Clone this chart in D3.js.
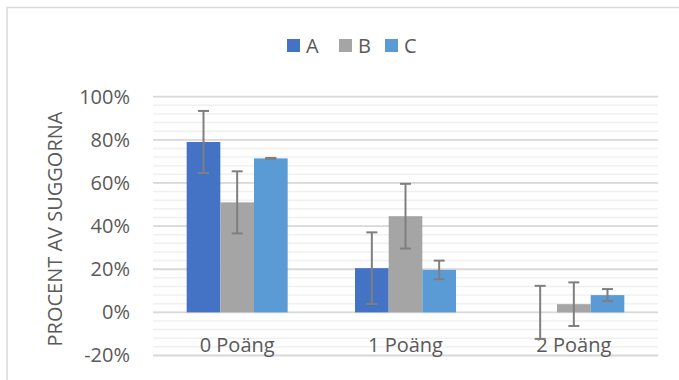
<!DOCTYPE html>
<html><head><meta charset="utf-8">
<script src="https://cdn.jsdelivr.net/npm/d3@7"></script>
<style>body{margin:0;background:#fff}svg{display:block}</style>
</head><body>
<svg id="c" width="679" height="380"></svg>
<script>
const categories = ["0 Poäng", "1 Poäng", "2 Poäng"];
const seriesNames = ["A", "B", "C"];
const valuesA = [0.79, 0.205, 0.0];
const valuesB = [0.51, 0.446, 0.038];
const valuesC = [0.714, 0.197, 0.08];
const errorsA = [0.144, 0.166, 0.123];
const errorsB = [0.144, 0.15, 0.101];
const errorsC = [0.002, 0.043, 0.028];
const yTicks = [-0.2, 0, 0.2, 0.4, 0.6, 0.8, 1.0];
const colors = ["#4472c4", "#a5a5a5", "#5b9bd5"];
const yTitle = "PROCENT AV SUGGORNA";

const values = [valuesA, valuesB, valuesC];
const errors = [errorsA, errorsB, errorsC];
const svg = d3.select("#c");
const font = "'Open Sans', sans-serif";

// outer border
svg.append("rect").attr("x", 7).attr("y", 7.5).attr("width", 700).attr("height", 400)
  .attr("fill", "none").attr("stroke", "#d9d9d9").attr("stroke-width", 1.5);

const x = d3.scaleBand().domain(categories).range([153, 658]).padding(0);
const xs = d3.scaleBand().domain(seriesNames).range([0, x.bandwidth()]).paddingOuter(1).paddingInner(0);
const y = d3.scaleLinear().domain([-0.2, 1.0]).range([355.5, 96.7]);

// minor gridlines
const minor = d3.range(-0.2, 1.0001, 0.04).map(v => Math.round(v * 100) / 100);
svg.append("g").selectAll("line").data(minor).join("line")
  .attr("x1", 153).attr("x2", 658).attr("y1", d => y(d)).attr("y2", d => y(d))
  .attr("stroke", "#f0f0f0").attr("stroke-width", 1.5);
// major gridlines
svg.append("g").selectAll("line").data(yTicks).join("line")
  .attr("x1", 153).attr("x2", 658).attr("y1", d => y(d)).attr("y2", d => y(d))
  .attr("stroke", "#d9d9d9").attr("stroke-width", 1.8);

// y axis labels
const yAxis = d3.axisLeft(y).tickValues(yTicks).tickFormat(d => Math.round(d * 100) + "%").tickSize(0).tickPadding(0);
const ga = svg.append("g").attr("transform", "translate(130,0)").call(yAxis);
ga.select(".domain").remove();
ga.selectAll("text").attr("font-family", font).attr("font-size", 20).attr("fill", "#595959");

// bars
seriesNames.forEach((s, si) => {
  const g = svg.append("g");
  g.selectAll("rect").data(categories).join("rect")
    .attr("x", c => x(c) + xs(s))
    .attr("width", xs.bandwidth())
    .attr("y", (c, i) => y(Math.max(0, values[si][i])))
    .attr("height", (c, i) => Math.abs(y(values[si][i]) - y(0)))
    .attr("fill", colors[si]);
});

// category labels
svg.append("g").selectAll("text").data(categories).join("text")
  .attr("x", c => x(c) + x.bandwidth() / 2).attr("y", 351.5)
  .attr("text-anchor", "middle").attr("font-family", font).attr("font-size", 20)
  .attr("fill", "#595959").text(c => c);

// error bars
seriesNames.forEach((s, si) => {
  const g = svg.append("g").attr("stroke", "#7f7f7f").attr("stroke-width", 2);
  categories.forEach((c, i) => {
    const cx = x(c) + xs(s) + xs.bandwidth() / 2;
    const v = values[si][i], e = errors[si][i];
    g.append("line").attr("x1", cx).attr("x2", cx).attr("y1", y(v + e)).attr("y2", y(v - e));
    [v + e, v - e].forEach(t => g.append("line").attr("x1", cx - 5.5).attr("x2", cx + 5.5).attr("y1", y(t)).attr("y2", y(t)));
  });
});

// y title
svg.append("text").attr("transform", "translate(62,229) rotate(-90)")
  .attr("text-anchor", "middle").attr("font-family", font).attr("font-size", 20)
  .attr("fill", "#595959").text(yTitle);

// legend
const legX = [287, 339, 385];
const lg = svg.append("g");
seriesNames.forEach((s, i) => {
  lg.append("rect").attr("x", legX[i]).attr("y", 39).attr("width", 13).attr("height", 13).attr("fill", colors[i]);
  lg.append("text").attr("x", legX[i] + 19).attr("y", 52.5).attr("font-family", font).attr("font-size", 20)
    .attr("fill", "#595959").text(s);
});
</script>
</body></html>
